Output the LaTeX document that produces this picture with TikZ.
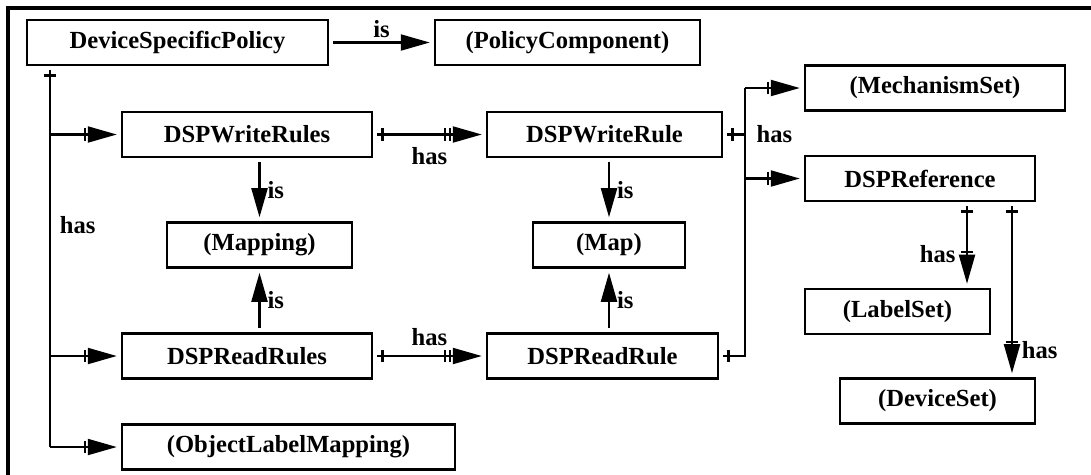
\documentclass[tikz,border=0pt]{standalone}
\usepackage{fontspec}
\setmainfont{Liberation Serif}
\usetikzlibrary{arrows.meta}
\usetikzlibrary{decorations.markings}

\tikzset{
  box/.style={draw, line width=1.2pt, minimum height=0.9cm, inner sep=2pt, outer sep=3pt,
    font=\fontsize{14}{16}\selectfont\bfseries},
  lbl/.style={font=\fontsize{14}{16}\selectfont\bfseries, inner sep=2pt},
  link/.style={line width=1.2pt},
  arr/.style={line width=1.2pt, -{Triangle[length=0.58cm,width=0.32cm]}},
  barstart/.style={postaction={decorate, decoration={markings,
    mark=at position 3pt with {\draw[-, line width=1.2pt] (0,-3.5pt) -- (0,3.5pt);}}}},
  barend/.style={postaction={decorate, decoration={markings,
    mark=at position -18pt with {\draw[-, line width=1.2pt] (0,-3.5pt) -- (0,3.5pt);}}}},
  barsend/.style={postaction={decorate, decoration={markings,
    mark=at position -18pt with {\draw[-, line width=1.2pt] (0,-3.5pt) -- (0,3.5pt);},
    mark=at position -21pt with {\draw[-, line width=1.2pt] (0,-3.5pt) -- (0,3.5pt);}}}},
  barlast/.style={postaction={decorate, decoration={markings,
    mark=at position -3pt with {\draw[-, line width=1.2pt] (0,-3.5pt) -- (0,3.5pt);}}}}
}

\begin{document}
\begin{tikzpicture}[x=0.02cm, y=-0.02cm]
\useasboundingbox (0,0) rectangle (1091,474);
\clip (0,0) rectangle (1091,474);
% frame
\draw[line width=1.8pt] (8,8) rectangle (1110,490);

% boxes
\node[box, minimum width=6.02cm] (dsp) at (177.5,42.5) {DeviceSpecificPolicy};
\node[box, minimum width=5.3cm] (pc) at (567.5,42.5) {(PolicyComponent)};
\node[box, minimum width=5.0cm] (wrules) at (247,134.5) {DSPWriteRules};
\node[box, minimum width=4.7cm] (wrule) at (604.5,134.5) {DSPWriteRule};
\node[box, minimum width=5.2cm] (mech) at (935,88) {(MechanismSet)};
\node[box, minimum width=4.6cm] (dspref) at (920,178.5) {DSPReference};
\node[box, minimum width=3.7cm] (mapping) at (259.5,245) {(Mapping)};
\node[box, minimum width=3.04cm] (map) at (609,245) {(Map)};
\node[box, minimum width=3.7cm] (labelset) at (897.5,311.5) {(LabelSet)};
\node[box, minimum width=3.9cm] (devset) at (937.5,401) {(DeviceSet)};
\node[box, minimum width=5.0cm] (rrules) at (247,356) {DSPReadRules};
\node[box, minimum width=4.62cm] (rrule) at (602.5,356) {DSPReadRule};
\node[box, minimum width=6.66cm] (olm) at (288.5,447) {(ObjectLabelMapping)};

% line positions
\coordinate (trunk) at (50,0);
\coordinate (bus) at (745,0);
\coordinate (lsdrop) at (967,0);
\coordinate (dsdrop) at (1012,0);

% is
\draw[arr] (dsp.east) -- (pc.west) node[midway, above, lbl] {is};
\draw[arr] (wrules.south -| mapping.north) -- (mapping.north) node[midway, right=2pt, lbl] {is};
\draw[arr] (rrules.north -| mapping.south) -- (mapping.south) node[midway, right=2pt, lbl] {is};
\draw[arr] (wrule.south -| map.north) -- (map.north) node[midway, right=2pt, lbl] {is};
\draw[arr] (rrule.north -| map.south) -- (map.south) node[midway, right=2pt, lbl] {is};

% has: policy parts
\draw[link, barstart] (dsp.south -| trunk) -- (olm.west -| trunk) node[pos=0.41, right=3pt, lbl] {has};
\draw[arr, barend] (wrules.west -| trunk) -- (wrules.west);
\draw[arr, barend] (rrules.west -| trunk) -- (rrules.west);
\draw[arr, barend] (olm.west -| trunk) -- (olm.west);

% has: rules
\draw[arr, barstart, barsend] (wrules.east) -- (wrule.west) node[midway, below=5pt, lbl] {has};
\draw[arr, barstart, barsend] (rrules.east) -- (rrule.west) node[midway, above=3pt, lbl] {has};

% has: rule parts
\draw[link, barstart] (wrule.east) -- (wrule.east -| bus) node[right=4pt, lbl] {has};
\draw[link, barlast] (mech.west -| bus) -- (rrule.east -| bus) -- (rrule.east);
\draw[arr, barend] (mech.west -| bus) -- (mech.west);
\draw[arr, barend] (dspref.west -| bus) -- (dspref.west);

% has: reference parts
\draw[arr, barstart, barend] (dspref.south -| lsdrop) -- (labelset.north -| lsdrop) node[pos=0.62, left=4pt, lbl] {has};
\draw[arr, barstart, barend] (dspref.south -| dsdrop) -- (devset.north -| dsdrop) node[pos=0.86, right=3pt, lbl] {has};
\end{tikzpicture}
\end{document}
